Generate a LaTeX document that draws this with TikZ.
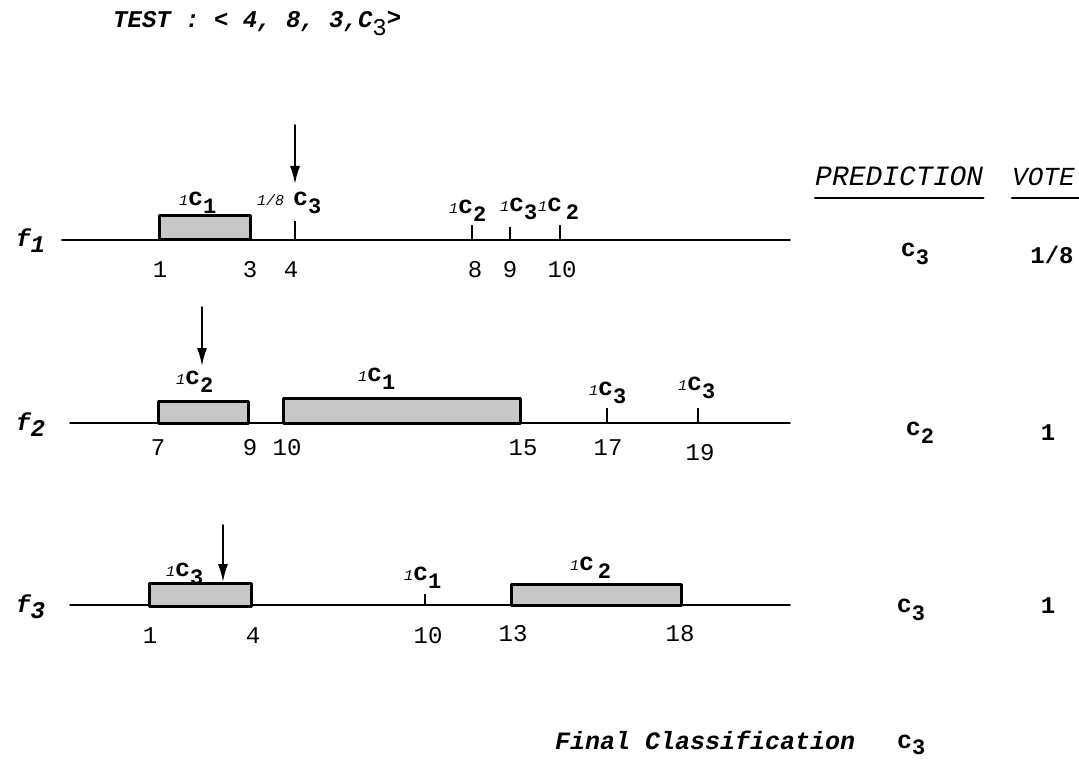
\documentclass[tikz,border=0pt]{standalone}
\usepackage{fontspec}
\setmainfont{Liberation Mono}
\usetikzlibrary{arrows.meta}

% etichetta di classe: peso corsivo, c grassetto, pedice
\newcommand{\cl}[3][-8pt]{{\fontsize{15}{15}\selectfont\itshape #2}{\fontsize{25}{25}\selectfont\bfseries c\raisebox{#1}{\fontsize{22}{22}\selectfont #3}}}
\newcommand{\feat}[1]{{\bfseries\itshape f\raisebox{-6pt}{#1}}}

\begin{document}
\begin{tikzpicture}[x=1pt, y=-1pt, line cap=round, line join=round,
    txt/.style={inner sep=0pt, anchor=base, font=\fontsize{24}{24}\selectfont},
    axis/.style={line width=1.8pt},
    bin/.style={draw, line width=3pt, line cap=butt, fill=black!22},
    tick/.style={line width=2.4pt, line cap=butt},
    ptr/.style={line width=1.8pt, -{Latex[length=18pt, width=10pt]}}]
    \useasboundingbox (0,0) rectangle (1079,762);

    % Intestazione
    \node[txt, anchor=base west, font=\fontsize{24}{24}\selectfont\bfseries\itshape] (test) at (113,28)
        {TEST : < 4, 8, 3,C\raisebox{-8pt}{\upshape\mdseries 3}\raisebox{2pt}{>}};

    % Colonne
    \node[txt, anchor=base west, font=\fontsize{28}{28}\selectfont\itshape] (pred) at (815,186) {PREDICTION};
    \node[txt, anchor=base west, font=\fontsize{26}{26}\selectfont\itshape] (vote) at (1012,186) {VOTE};
    \draw[line width=2.2pt] (pred.west |- 0,198) coordinate (u1) -- (u1 -| pred.east);
    \draw[line width=2.2pt] (vote.west |- 0,198) coordinate (u2) -- (u2 -| 1079,0);

    % Asse f1
    \node[txt, anchor=base west] (f1) at (16,247) {\feat{1}};
    \draw[axis] (62,240) -- (790,240);
    \draw[bin] (159,216) rectangle (250,240);
    \draw[tick] (295,240) -- (295,221) coordinate (a1);
    \draw[tick] (472,240) -- (472,225);
    \draw[tick] (510,240) -- (510,227);
    \draw[tick] (560,240) -- (560,225);
    \coordinate (s1) at (295,125);
    \draw[ptr] (s1) -- ([yshift=37pt]a1);
    \foreach \v/\x in {1/160, 3/250, 4/291, 8/475, 9/510, 10/562}
        \node[txt] (n1-\v) at (\x,277) {\v};
    \node[txt, anchor=base west] (l1a) at (179,206) {\cl{1}{1}};
    \node[txt, anchor=base west] (l1b) at (257,206) {\cl{1/8 }{3}};
    \node[txt, anchor=base west] (l1c) at (449,214) {\cl{1}{2}};
    \node[txt, anchor=base west] (l1d) at (500,212) {\cl{1}{3}};
    \node[txt, anchor=base west] (l1e) at (538,212) {\cl{1}{\,2}};
    \node[txt] (p1) at (915,257) {\cl{}{3}};
    \node[txt, font=\fontsize{24}{24}\selectfont\bfseries] (v1) at (1052,263) {1/8};

    % Asse f2
    \node[txt, anchor=base west] (f2) at (16,430) {\feat{2}};
    \draw[axis] (70,423) -- (790,423);
    \draw[bin] (158,401) rectangle (248,423);
    \draw[bin] (283,398) rectangle (520,423);
    \draw[tick] (607,423) -- (607,408);
    \draw[tick] (698,423) -- (698,408);
    \coordinate (s2) at (202,307);
    \coordinate (a2) at (202,366);
    \draw[ptr] (s2) -- (a2);
    \foreach \v/\x/\y in {7/158/455, 9/250/455, 10/287/455, 15/523/455, 17/608/455, 19/700/460}
        \node[txt] (n2-\v) at (\x,\y) {\v};
    \node[txt, anchor=base west] (l2a) at (176,384) {\cl{1}{2}};
    \node[txt, anchor=base west] (l2b) at (358,381) {\cl{1}{1}};
    \node[txt, anchor=base west] (l2c) at (589,395) {\cl{1}{3}};
    \node[txt, anchor=base west] (l2d) at (678,390) {\cl{1}{3}};
    \node[txt] (p2) at (920,435) {\cl{}{2}};
    \node[txt, font=\fontsize{24}{24}\selectfont\bfseries] (v2) at (1048,440) {1};

    % Asse f3
    \node[txt, anchor=base west] (f3) at (16,612) {\feat{3}};
    \draw[axis] (70,605) -- (790,605);
    \draw[bin] (149,583) rectangle (251,606);
    \draw[bin] (511,584) rectangle (681,605);
    \draw[tick] (425,605) -- (425,594);
    \coordinate (s3) at (223,525);
    \coordinate (a3) at (223,582);
    \draw[ptr] (s3) -- (a3);
    \foreach \v/\x/\y in {1/150/643, 4/253/643, 10/428/643, 13/513/641, 18/680/641}
        \node[txt] (n3-\v) at (\x,\y) {\v};
    \node[txt, anchor=base west] (l3a) at (166,576) {\cl{1}{3}};
    \node[txt, anchor=base west] (l3b) at (404,580) {\cl{1}{1}};
    \node[txt, anchor=base west] (l3c) at (570,570) {\cl{1}{\,2}};
    \node[txt] (p3) at (911,612) {\cl{}{3}};
    \node[txt, font=\fontsize{24}{24}\selectfont\bfseries] (v3) at (1048,613) {1};

    % Classificazione finale
    \node[txt, anchor=base west, font=\fontsize{25}{25}\selectfont\bfseries\itshape] (fin) at (555,749) {Final Classification};
    \node[txt, anchor=base west] (cfin) at (897,748) {\cl[-6pt]{}{3}};
\end{tikzpicture}
\end{document}
